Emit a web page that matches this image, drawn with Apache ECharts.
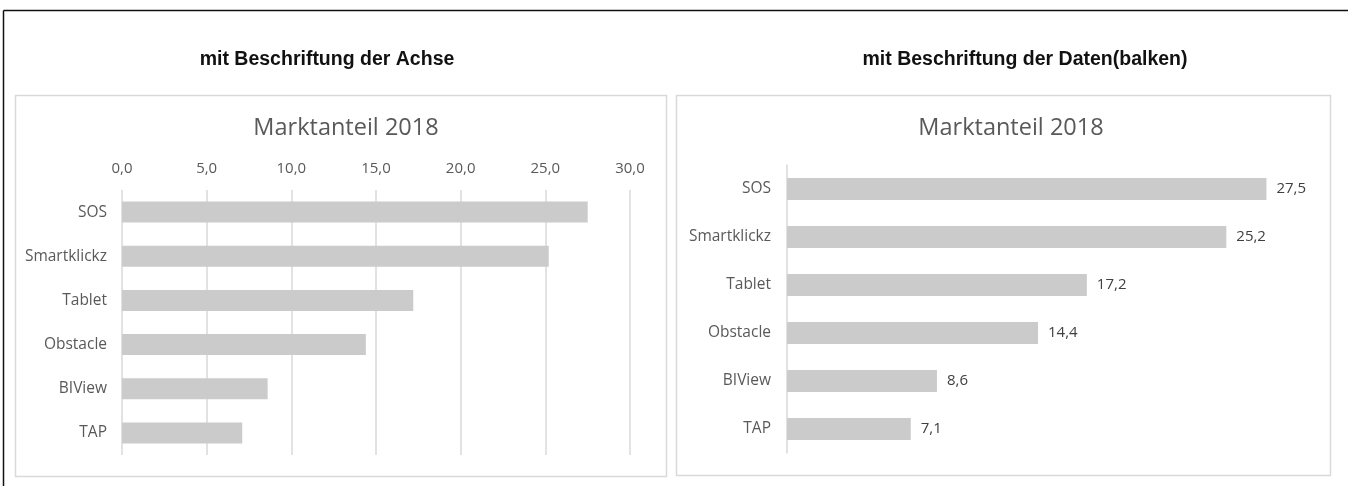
<!DOCTYPE html>
<html>
<head>
<meta charset="utf-8">
<script src="https://cdn.jsdelivr.net/npm/echarts@6/dist/echarts.min.js"></script>
<style>
html,body{margin:0;padding:0;background:#fff;}
#chart{width:1348px;height:486px;}
</style>
</head>
<body>
<div id="chart"></div>
<script>
// Data
var categories = ["SOS", "Smartklickz", "Tablet", "Obstacle", "BIView", "TAP"];
var marketShare = [27.5, 25.2, 17.2, 14.4, 8.6, 7.1];
var axisTicks = [0, 5, 10, 15, 20, 25, 30];
var pageTitles = ["mit Beschriftung der Achse", "mit Beschriftung der Daten(balken)"];
var chartTitle = "Marktanteil 2018";

function fmt(v) { return Number(v).toFixed(1).replace('.', ','); }

var labelFont = "'Open Sans', 'Noto Sans', sans-serif";
var chart = echarts.init(document.getElementById('chart'));

chart.setOption({
  animation: false,
  backgroundColor: '#ffffff',
  graphic: [
    { type: 'line', shape: { x1: 3.5, y1: 10.5, x2: 1348, y2: 10.5 }, style: { stroke: '#111', lineWidth: 1.5 } },
    { type: 'line', shape: { x1: 3.5, y1: 10.5, x2: 3.5, y2: 486 }, style: { stroke: '#111', lineWidth: 1.5 } },
    { type: 'rect', shape: { x: 15.5, y: 95.5, width: 651, height: 381 }, style: { fill: 'none', stroke: '#d9d9d9', lineWidth: 1.5 }, z: -1 },
    { type: 'rect', shape: { x: 676.5, y: 95.5, width: 654, height: 380 }, style: { fill: 'none', stroke: '#d9d9d9', lineWidth: 1.5 }, z: -1 }
  ],
  title: [
    { text: pageTitles[0], left: 322, top: 45, textAlign: 'center',
      textStyle: { fontFamily: "'Liberation Sans', Arial, sans-serif", fontWeight: 'bold', fontSize: 19.5, color: '#111' } },
    { text: pageTitles[1], left: 1020, top: 45, textAlign: 'center',
      textStyle: { fontFamily: "'Liberation Sans', Arial, sans-serif", fontWeight: 'bold', fontSize: 19.5, color: '#111' } },
    { text: chartTitle, left: 341, top: 111, textAlign: 'center',
      textStyle: { fontFamily: labelFont, fontWeight: 'normal', fontSize: 23.5, color: '#595959' } },
    { text: chartTitle, left: 1006, top: 111, textAlign: 'center',
      textStyle: { fontFamily: labelFont, fontWeight: 'normal', fontSize: 23.5, color: '#595959' } }
  ],
  grid: [
    { left: 122, right: 718, top: 190, bottom: 31 },
    { left: 787, right: 38, top: 165, bottom: 33 }
  ],
  xAxis: [
    { type: 'value', gridIndex: 0, position: 'top', min: axisTicks[0], max: axisTicks[axisTicks.length - 1], interval: axisTicks[1] - axisTicks[0],
      axisLine: { show: false }, axisTick: { show: false },
      axisLabel: { formatter: fmt, color: '#595959', fontFamily: labelFont, fontSize: 15, margin: 14 },
      splitLine: { show: true, lineStyle: { color: '#d9d9d9', width: 1.5 } } },
    { type: 'value', gridIndex: 1, min: axisTicks[0], max: axisTicks[axisTicks.length - 1], show: false,
      splitLine: { show: false } }
  ],
  yAxis: [
    { type: 'category', gridIndex: 0, data: categories, inverse: true,
      axisLine: { show: false }, axisTick: { show: false },
      axisLabel: { color: '#595959', fontFamily: labelFont, fontSize: 15.5, margin: 15 } },
    { type: 'category', gridIndex: 1, data: categories, inverse: true,
      axisLine: { show: true, lineStyle: { color: '#d9d9d9', width: 1.5 } }, axisTick: { show: false },
      axisLabel: { color: '#595959', fontFamily: labelFont, fontSize: 15.5, margin: 16 } }
  ],
  series: [
    { type: 'bar', xAxisIndex: 0, yAxisIndex: 0, data: marketShare, barWidth: 21,
      itemStyle: { color: '#cbcbcb' } },
    { type: 'bar', xAxisIndex: 1, yAxisIndex: 1, data: marketShare, barWidth: 22,
      itemStyle: { color: '#cbcbcb' },
      label: { show: true, position: 'right', distance: 10, formatter: function (p) { return fmt(p.value); },
        color: '#404040', fontFamily: labelFont, fontSize: 15 } }
  ]
});
</script>
</body>
</html>
